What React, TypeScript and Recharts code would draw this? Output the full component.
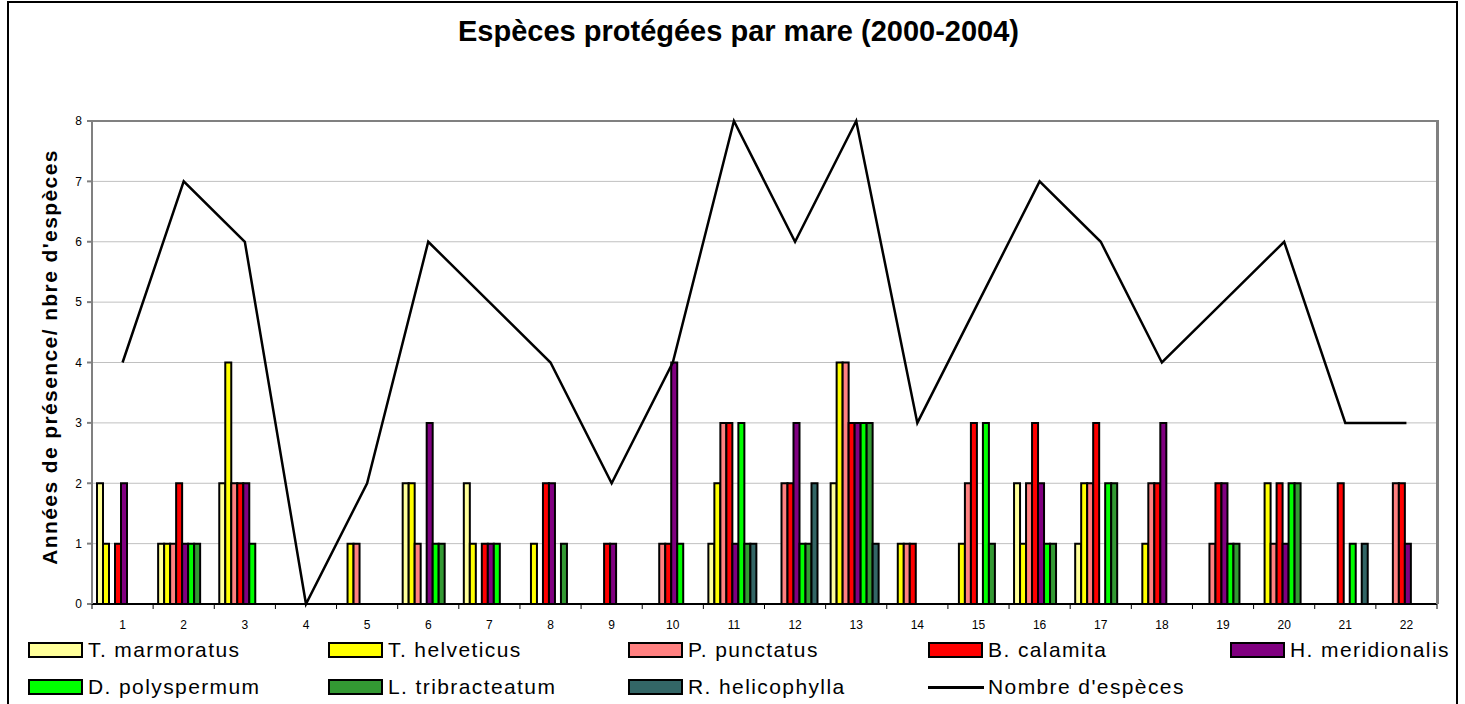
import React from "react";
import {
  ComposedChart,
  Bar,
  Line,
  XAxis,
  YAxis,
  CartesianGrid,
  ReferenceLine,
} from "recharts";

const categories = [
  "1", "2", "3", "4", "5", "6", "7", "8", "9", "10", "11",
  "12", "13", "14", "15", "16", "17", "18", "19", "20", "21", "22",
];

const marmoratus = [2, 1, 2, 0, 0, 2, 2, 0, 0, 0, 1, 0, 2, 0, 0, 2, 1, 0, 0, 0, 0, 0];
const helveticus = [1, 1, 4, 0, 1, 2, 1, 1, 0, 0, 2, 0, 4, 1, 1, 1, 2, 1, 0, 2, 0, 0];
const punctatus = [0, 1, 2, 0, 1, 1, 0, 0, 0, 1, 3, 2, 4, 1, 2, 2, 2, 2, 1, 1, 0, 2];
const calamita = [1, 2, 2, 0, 0, 0, 1, 2, 1, 1, 3, 2, 3, 1, 3, 3, 3, 2, 2, 2, 2, 2];
const meridionalis = [2, 1, 2, 0, 0, 3, 1, 2, 1, 4, 1, 3, 3, 0, 0, 2, 0, 3, 2, 1, 0, 1];
const polyspermum = [0, 1, 1, 0, 0, 1, 1, 0, 0, 1, 3, 1, 3, 0, 3, 1, 2, 0, 1, 2, 1, 0];
const tribracteatum = [0, 1, 0, 0, 0, 1, 0, 1, 0, 0, 1, 1, 3, 0, 1, 1, 2, 0, 1, 2, 0, 0];
const helicophylla = [0, 0, 0, 0, 0, 0, 0, 0, 0, 0, 1, 2, 1, 0, 0, 0, 0, 0, 0, 0, 1, 0];
const nombreEspeces = [4, 7, 6, 0, 2, 6, 5, 4, 2, 4, 8, 6, 8, 3, 5, 7, 6, 4, 5, 6, 3, 3];

const yTicks = [0, 1, 2, 3, 4, 5, 6, 7, 8];

const SERIES = [
  { key: "marmoratus", name: "T. marmoratus", color: "#ffff99", values: marmoratus },
  { key: "helveticus", name: "T. helveticus", color: "#ffff00", values: helveticus },
  { key: "punctatus", name: "P. punctatus", color: "#ff8080", values: punctatus },
  { key: "calamita", name: "B. calamita", color: "#ff0000", values: calamita },
  { key: "meridionalis", name: "H. meridionalis", color: "#800080", values: meridionalis },
  { key: "polyspermum", name: "D. polyspermum", color: "#00ff00", values: polyspermum },
  { key: "tribracteatum", name: "L. tribracteatum", color: "#339933", values: tribracteatum },
  { key: "helicophylla", name: "R. helicophylla", color: "#336666", values: helicophylla },
];

const data = categories.map((c, i) => {
  const row: Record<string, string | number> = { mare: c, nombre: nombreEspeces[i] };
  SERIES.forEach((s) => {
    row[s.key] = s.values[i];
  });
  return row;
});

const FONT = '"Liberation Sans", Arial, sans-serif';
const W = 1465;
const H = 704;
const MARGIN = { top: 121, right: 28, bottom: 70, left: 52 };
const Y_AXIS_W = 40;
const X_AXIS_H = 30;
const PLOT_W = W - MARGIN.left - Y_AXIS_W - MARGIN.right;
const PLOT_H = H - MARGIN.top - MARGIN.bottom - X_AXIS_H;
const BAND = PLOT_W / categories.length;

function XTick(props: any) {
  const { x, y, payload, index } = props;
  const last = index === categories.length - 1;
  return (
    <g>
      <line x1={x - BAND / 2} x2={x - BAND / 2} y1={y} y2={y + 5} stroke="#000" strokeWidth={1} />
      {last && (
        <line x1={x + BAND / 2} x2={x + BAND / 2} y1={y} y2={y + 5} stroke="#000" strokeWidth={1} />
      )}
      <text x={x} y={y + 25} textAnchor="middle" fontSize={12} fill="#000" fontFamily={FONT}>
        {payload.value}
      </text>
    </g>
  );
}

function Legend() {
  const items = [
    ...SERIES.map((s) => ({ name: s.name, color: s.color, line: false })),
    { name: "Nombre d'espèces", color: "#000", line: true },
  ];
  return (
    <div
      style={{
        position: "absolute",
        left: 28,
        top: 640,
        width: 1430,
        display: "grid",
        gridTemplateColumns: "300px 300px 300px 302px 300px",
        rowGap: 17,
        fontFamily: FONT,
        fontSize: 21,
        letterSpacing: 1.4,
        color: "#000",
      }}
    >
      {items.map((it) => (
        <div key={it.name} style={{ display: "flex", alignItems: "center", height: 20, whiteSpace: "nowrap" }}>
          {it.line ? (
            <div style={{ width: 56, height: 3, background: "#000", marginRight: 4 }} />
          ) : (
            <div
              style={{
                width: 51,
                height: 12,
                background: it.color,
                border: "2px solid #000",
                marginRight: 5,
              }}
            />
          )}
          <span>{it.name}</span>
        </div>
      ))}
    </div>
  );
}

export default function App() {
  return (
    <div
      style={{
        position: "absolute",
        left: 0,
        top: 0,
        width: W,
        height: H,
        overflow: "hidden",
        background: "#fff",
      }}
    >
      <div
        style={{
          position: "absolute",
          left: 7,
          top: 1,
          width: 1451,
          height: 740,
          border: "2px solid #000",
          boxSizing: "border-box",
        }}
      />
      <div
        style={{
          position: "absolute",
          left: 0,
          width: 1477,
          top: 15,
          textAlign: "center",
          fontFamily: FONT,
          fontWeight: "bold",
          fontSize: 29,
          color: "#000",
        }}
      >
        Espèces protégées par mare (2000-2004)
      </div>
      <div style={{ position: "absolute", left: 0, top: 0 }}>
        <ComposedChart
          width={W}
          height={H}
          data={data}
          margin={MARGIN}
          barCategoryGap={5}
          barGap={0}
        >
          <CartesianGrid horizontal vertical={false} stroke="#c0c0c0" strokeWidth={1} />
          <XAxis
            dataKey="mare"
            interval={0}
            height={X_AXIS_H}
            tickSize={0}
            tickMargin={0}
            tickLine={false}
            axisLine={{ stroke: "#000", strokeWidth: 2 }}
            tick={<XTick />}
          />
          <YAxis
            domain={[0, 8]}
            ticks={yTicks}
            width={Y_AXIS_W}
            interval={0}
            tickSize={5}
            tickMargin={5}
            tickLine={{ stroke: "#808080", strokeWidth: 2 }}
            axisLine={{ stroke: "#808080", strokeWidth: 2 }}
            tick={{ fontSize: 12, fill: "#000", fontFamily: FONT }}
            label={{
              content: () => (
                <text
                  transform="translate(49,357) rotate(-90)"
                  textAnchor="middle"
                  dominantBaseline="central"
                  fontFamily={FONT}
                  fontWeight="bold"
                  fontSize={21}
                  letterSpacing={1.4}
                  fill="#000"
                >
                  Années de présence/ nbre d'espèces
                </text>
              ),
            }}
          />
          <ReferenceLine y={8} stroke="#808080" strokeWidth={2} />
          {SERIES.map((s) => (
            <Bar
              key={s.key}
              dataKey={s.key}
              name={s.name}
              fill={s.color}
              stroke="#000"
              strokeWidth={2}
              isAnimationActive={false}
            />
          ))}
          <Line
            type="linear"
            dataKey="nombre"
            name="Nombre d'espèces"
            stroke="#000"
            strokeWidth={2.5}
            dot={false}
            activeDot={false}
            isAnimationActive={false}
          />
        </ComposedChart>
      </div>
      {/* plot frame, right edge */}
      <div
        style={{
          position: "absolute",
          left: W - MARGIN.right - 1,
          top: MARGIN.top - 1,
          width: 3,
          height: PLOT_H + 1,
          background: "#808080",
        }}
      />
      <Legend />
    </div>
  );
}
